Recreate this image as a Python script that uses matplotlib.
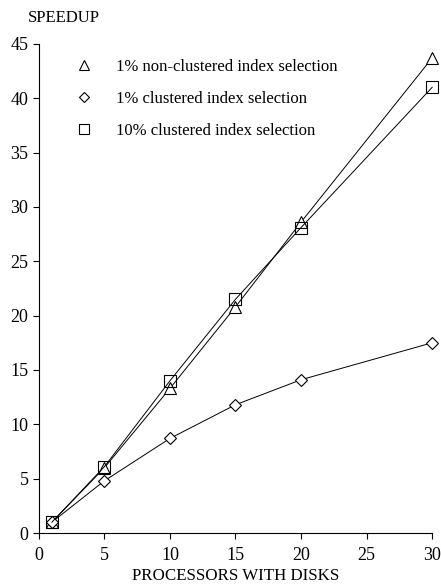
import matplotlib
matplotlib.use('Agg')
import matplotlib.pyplot as plt

plt.rcParams['font.family'] = ['Liberation Serif', 'DejaVu Serif']

procs = [1, 5, 10, 15, 20, 30]
nonclust_1 = [1, 6.0, 13.3, 20.8, 28.6, 43.7]
clust_1 = [1, 4.8, 8.7, 11.8, 14.1, 17.5]
clust_10 = [1, 6.1, 14.0, 21.5, 28.1, 41.0]

fig = plt.figure(figsize=(4.41, 5.88), dpi=100)
ax = fig.add_axes([0.088, 0.0935, 0.892, 0.832])

ax.plot(procs, nonclust_1, '-', color='k', lw=0.7, marker='^', ms=8,
        mfc='white', mec='k', mew=0.8, clip_on=False, zorder=3)
ax.plot(procs, clust_1, '-', color='k', lw=0.7, marker='D', ms=6,
        mfc='white', mec='k', mew=0.8, clip_on=False, zorder=3)
ax.plot(procs, clust_10, '-', color='k', lw=0.7, marker='s', ms=8,
        mfc='none', mec='k', mew=0.8, clip_on=False, zorder=3)

# legenda samo z markerji
h1, = ax.plot([], [], ls='none', marker='^', ms=7, mfc='white', mec='k', mew=0.8)
h2, = ax.plot([], [], ls='none', marker='D', ms=5, mfc='white', mec='k', mew=0.8)
h3, = ax.plot([], [], ls='none', marker='s', ms=7, mfc='white', mec='k', mew=0.8)
ax.legend([h1, h2, h3], ['1% non-clustered index selection',
                         '1% clustered index selection',
                         '10% clustered index selection'],
          loc='upper left', bbox_to_anchor=(0.035, 1.0), frameon=False,
          fontsize=12, handletextpad=0.9, labelspacing=0.97)

ax.set_xlim(0, 30)
ax.set_ylim(0, 45)
ax.set_xticks(range(0, 31, 5))
ax.set_yticks(range(0, 46, 5))
ax.spines['top'].set_visible(False)
ax.spines['right'].set_visible(False)
ax.spines['left'].set_linewidth(0.8)
ax.spines['bottom'].set_linewidth(0.8)
ax.tick_params(direction='out', length=4, width=0.8, labelsize=13)
ax.tick_params(axis='x', pad=6)

ax.set_xlabel('PROCESSORS WITH DISKS', fontsize=12.2, labelpad=3)
fig.text(0.064, 0.97, 'SPEEDUP', fontsize=12, ha='left', va='center')

fig.savefig('out.png', dpi=100)
